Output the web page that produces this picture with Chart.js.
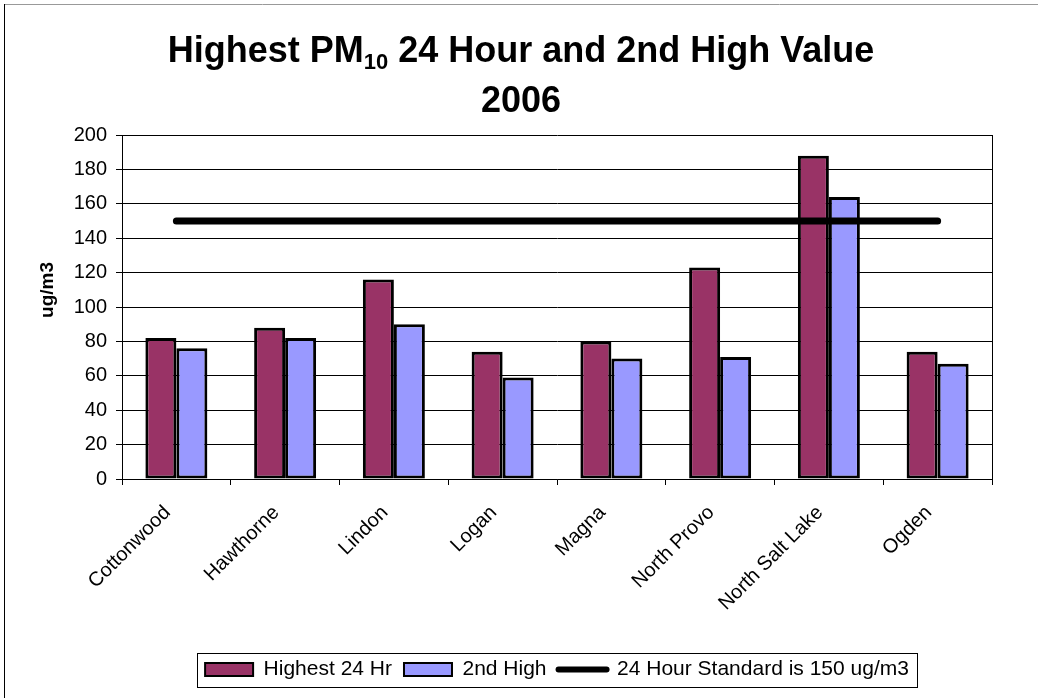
<!DOCTYPE html>
<html>
<head>
<meta charset="utf-8">
<script src="https://cdn.jsdelivr.net/npm/chart.js@4"></script>
<style>
  body { margin: 0; background: #fff; }
  canvas { display: block; }
</style>
</head>
<body>
<canvas id="pmChart" width="1038" height="698"></canvas>
<script>
const sites = ['Cottonwood', 'Hawthorne', 'Lindon', 'Logan', 'Magna', 'North Provo', 'North Salt Lake', 'Ogden']
const highest = [82, 88, 116, 74, 80, 123, 188, 74]
const secondHigh = [76, 82, 90, 59, 70, 71, 164, 67]
const standard = [150, 150, 150, 150, 150, 150, 150, 150]

const FONT = '"Liberation Sans", Arial, sans-serif'

// frame round the whole chart, right edge of the plot, legend box, y title
const framePlugin = {
    id: 'frame',
    beforeDraw(chart) {
        const ctx = chart.ctx
        ctx.save()
        ctx.lineWidth = 1
        ctx.strokeStyle = '#999'
        ctx.beginPath()
        ctx.moveTo(4, 4.5)
        ctx.lineTo(chart.width, 4.5)
        ctx.stroke()
        ctx.strokeStyle = '#000'
        ctx.beginPath()
        ctx.moveTo(4.5, 4)
        ctx.lineTo(4.5, chart.height)
        ctx.stroke()
        ctx.restore()
    },
    afterDraw(chart) {
        const ctx = chart.ctx
        const a = chart.chartArea
        ctx.save()
        ctx.strokeStyle = '#000'
        ctx.lineWidth = 1
        ctx.beginPath()
        ctx.moveTo(Math.round(a.right) + 0.5, a.top)
        ctx.lineTo(Math.round(a.right) + 0.5, a.bottom + 6)
        ctx.stroke()
        const boxes = chart.legend.legendHitBoxes
        if (boxes && boxes.length) {
            const left = Math.min(...boxes.map(b => b.left)) - 8
            const right = Math.max(...boxes.map(b => b.left + b.width)) + 8
            const mid = boxes[0].top + boxes[0].height / 2
            ctx.strokeRect(Math.round(left) + 0.5, Math.round(mid - 17) + 0.5, Math.round(right - left), 34)
        }
        // y axis title
        ctx.translate(48, 290)
        ctx.rotate(-Math.PI / 2)
        ctx.font = 'bold 19px ' + FONT
        ctx.fillStyle = '#000'
        ctx.textAlign = 'center'
        ctx.textBaseline = 'middle'
        ctx.fillText('ug/m3', 0, 0)
        ctx.restore()
    }
}

// title with a subscript
const titlePlugin = {
    id: 'subTitle',
    afterDraw(chart) {
        const ctx = chart.ctx
        const big = 'bold 36px ' + FONT
        const small = 'bold 22px ' + FONT
        const parts = [
            { text: 'Highest PM', font: big, dy: 0 },
            { text: '10', font: small, dy: 7 },
            { text: ' 24 Hour and 2nd High Value', font: big, dy: 0 },
        ]
        ctx.save()
        ctx.fillStyle = '#000'
        ctx.textBaseline = 'alphabetic'
        ctx.textAlign = 'left'
        let total = 0
        parts.forEach(p => { ctx.font = p.font; p.w = ctx.measureText(p.text).width; total += p.w })
        let x = 521 - total / 2
        parts.forEach(p => {
            ctx.font = p.font
            ctx.fillText(p.text, x, 62 + p.dy)
            x += p.w
        })
        ctx.font = big
        ctx.textAlign = 'center'
        ctx.fillText('2006', 521, 112)
        ctx.restore()
    }
}

new Chart('pmChart', {
    type: 'bar',
    data: {
        labels: sites,
        datasets: [
            {
                label: 'Highest 24 Hr',
                data: highest,
                backgroundColor: '#993366',
                borderColor: '#000',
                borderWidth: 3,
                borderSkipped: false,
                order: 1,
            },
            {
                label: '2nd High',
                data: secondHigh,
                backgroundColor: '#9999FF',
                borderColor: '#000',
                borderWidth: 3,
                borderSkipped: false,
                order: 1,
            },
            {
                type: 'line',
                label: '24 Hour Standard is 150 ug/m3',
                data: standard,
                borderColor: '#000',
                backgroundColor: '#000',
                borderWidth: 7,
                borderCapStyle: 'round',
                pointRadius: 0,
                fill: false,
                order: 0,
            },
        ],
    },
    options: {
        responsive: false,
        animation: false,
        categoryPercentage: 0.57,
        barPercentage: 1.0,
        layout: {
            padding: { top: 135, left: 30, right: 46, bottom: 8 },
        },
        plugins: {
            title: { display: false },
            tooltip: { enabled: false },
            legend: {
                position: 'bottom',
                fullSize: false,
                labels: {
                    color: '#000',
                    font: { family: FONT, size: 21 },
                    usePointStyle: true,
                    pointStyleWidth: 48,
                    boxHeight: 13,
                    padding: 12,
                    sort: (a, b) => a.datasetIndex - b.datasetIndex,
                    generateLabels: (chart) => {
                        const items = Chart.defaults.plugins.legend.labels.generateLabels(chart)
                        items.forEach(it => {
                            it.strokeStyle = '#000'
                            if (it.datasetIndex === 2) {
                                it.pointStyle = 'line'
                                it.lineWidth = 6
                                it.lineCap = 'round'
                            } else {
                                it.pointStyle = 'rect'
                                it.lineWidth = 2
                            }
                        })
                        return items
                    },
                },
            },
        },
        scales: {
            x: {
                offset: true,
                afterFit: (s) => { s.height = 168 },
                grid: {
                    display: true,
                    offset: true,
                    drawOnChartArea: false,
                    drawTicks: true,
                    tickLength: 6,
                    color: '#000',
                },
                border: { color: '#000', width: 1 },
                ticks: {
                    color: '#000',
                    font: { family: FONT, size: 20 },
                    minRotation: 45,
                    maxRotation: 45,
                    padding: 16,
                    labelOffset: -9,
                    autoSkip: false,
                },
            },
            y: {
                min: 0,
                max: 200,
                afterFit: (s) => { s.width = 92 },
                grid: {
                    color: '#000',
                    lineWidth: 1,
                    tickLength: 6,
                },
                border: { color: '#000', width: 1 },
                ticks: {
                    stepSize: 20,
                    color: '#000',
                    font: { family: FONT, size: 20 },
                    padding: 9,
                },
            },
        },
    },
    plugins: [framePlugin, titlePlugin],
})
</script>
</body>
</html>
